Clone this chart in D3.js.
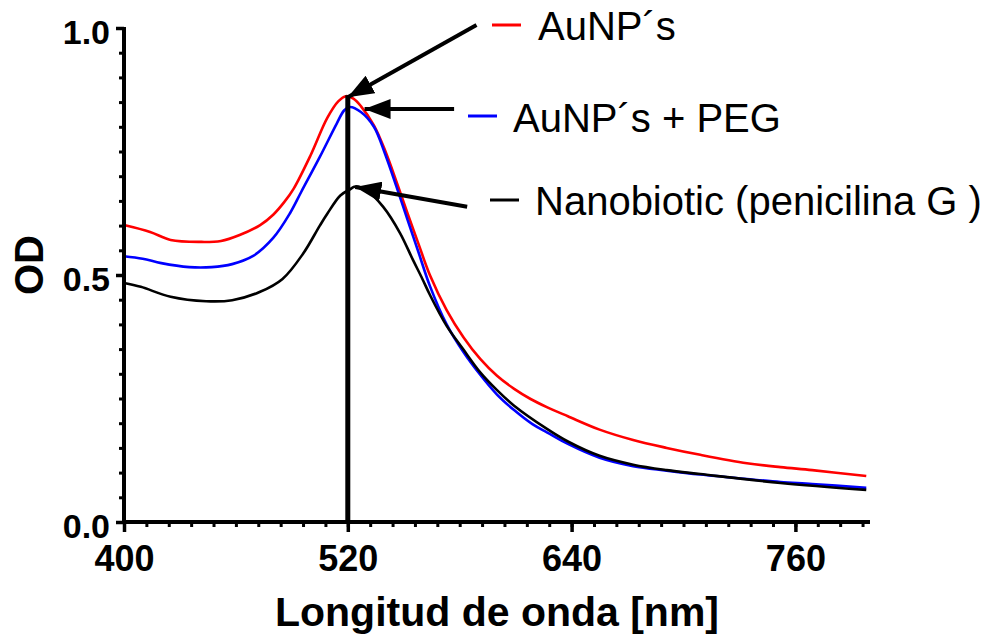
<!DOCTYPE html>
<html>
<head>
<meta charset="utf-8">
<script src="https://cdn.jsdelivr.net/npm/d3@7/dist/d3.min.js"></script>
<style>
  body { margin: 0; background: #fff; }
  svg { font-family: "Liberation Sans", Arial, sans-serif; }
</style>
</head>
<body>
<svg width="1000" height="635"></svg>
<script>
// wavelength (nm) / OD readings per sample
var aunpNm = [400, 414, 425, 441, 452, 462, 473, 480, 486, 491, 500, 509, 515, 519, 523, 527, 534, 540, 546, 552, 558, 564, 573, 582, 591, 600, 609, 618, 627, 638, 655, 673, 691, 709, 734, 752, 769, 798];
var aunpOd = [0.601, 0.587, 0.571, 0.567, 0.569, 0.581, 0.601, 0.622, 0.648, 0.675, 0.742, 0.818, 0.852, 0.862, 0.857, 0.842, 0.803, 0.752, 0.690, 0.625, 0.562, 0.500, 0.429, 0.374, 0.330, 0.296, 0.270, 0.249, 0.232, 0.214, 0.187, 0.166, 0.150, 0.136, 0.119, 0.111, 0.105, 0.093];

var pegNm = [400, 410, 420, 435, 447, 458, 469, 480, 489, 495, 505, 514, 518, 521, 527, 534, 540, 546, 552, 558, 564, 573, 582, 591, 600, 609, 619, 627, 638, 655, 673, 691, 709, 734, 752, 769, 798];
var pegOd = [0.538, 0.533, 0.524, 0.516, 0.516, 0.522, 0.538, 0.575, 0.625, 0.668, 0.739, 0.806, 0.833, 0.840, 0.830, 0.800, 0.745, 0.680, 0.612, 0.545, 0.478, 0.400, 0.344, 0.298, 0.258, 0.227, 0.198, 0.181, 0.158, 0.130, 0.113, 0.104, 0.096, 0.087, 0.081, 0.077, 0.069];

var nanoNm = [400, 409, 425, 444, 458, 473, 485, 496, 505, 509, 516, 521, 524, 530, 539, 548, 555, 560, 564, 573, 582, 591, 600, 609, 627, 638, 655, 673, 691, 709, 752, 798];
var nanoOd = [0.484, 0.476, 0.456, 0.447, 0.449, 0.466, 0.492, 0.543, 0.600, 0.624, 0.661, 0.673, 0.679, 0.672, 0.638, 0.585, 0.530, 0.492, 0.460, 0.397, 0.349, 0.303, 0.267, 0.236, 0.188, 0.163, 0.134, 0.116, 0.105, 0.097, 0.079, 0.065];

var seriesNames = ["AuNP\u00b4s", "AuNP\u00b4s + PEG", "Nanobiotic (penicilina G )"];
var seriesColors = ["#ff0000", "#0000ff", "#000000"];

var xTicks = [400, 520, 640, 760];
var yTicks = [0, 0.5, 1.0];
var peakNm = 520;
var peakOd = 0.862;

// arrows: [tail nm, tail OD, tip nm, tip OD]
var arrows = [
    [589, 1.006, 520, 0.860],
    [577, 0.836, 529, 0.836],
    [584, 0.638, 524, 0.678]
];

function main() {
    var svg = d3.select("svg");

    var x = d3.scaleLinear().domain([400, 800]).range([124, 870]);
    var y = d3.scaleLinear().domain([0, 1]).range([522, 28]);

    var defs = svg.append("defs");
    defs.append("marker")
        .attr("id", "head")
        .attr("viewBox", "0 0 26 20")
        .attr("refX", 26)
        .attr("refY", 10)
        .attr("markerWidth", 26)
        .attr("markerHeight", 20)
        .attr("markerUnits", "userSpaceOnUse")
        .attr("orient", "auto")
        .append("path")
        .attr("d", "M0,0 L26,10 L0,20 Z")
        .attr("fill", "#000");

    var line = d3.line()
        .x(function(d) { return x(d[0]); })
        .y(function(d) { return y(d[1]); })
        .curve(d3.curveCatmullRom);

    var sets = [
        d3.zip(aunpNm, aunpOd),
        d3.zip(pegNm, pegOd),
        d3.zip(nanoNm, nanoOd)
    ];

    sets.forEach(function(s, i) {
        svg.append("path")
            .datum(s)
            .attr("fill", "none")
            .attr("stroke", seriesColors[i])
            .attr("stroke-width", 2.6)
            .attr("d", line);
    });

    // vertical marker line at the plasmon peak
    svg.append("line")
        .attr("x1", x(peakNm)).attr("x2", x(peakNm))
        .attr("y1", y(0)).attr("y2", y(peakOd) - 1)
        .attr("stroke", "#000")
        .attr("stroke-width", 5);

    // axes
    var yMinor = d3.range(0, 1.0001, 0.05);
    var xMinor = d3.range(400, 800.1, 12);

    svg.append("g")
        .attr("transform", "translate(" + x(400) + ",0)")
        .call(d3.axisLeft(y).tickValues(yMinor).tickSize(5).tickFormat(""))
        .call(function(g) {
            g.select(".domain").remove();
            g.selectAll("line").attr("stroke-width", 3);
        });

    svg.append("g")
        .attr("transform", "translate(0," + y(0) + ")")
        .call(d3.axisBottom(x).tickValues(xMinor).tickSize(5).tickFormat(""))
        .call(function(g) {
            g.select(".domain").remove();
            g.selectAll("line").attr("stroke-width", 3);
        });

    svg.append("g")
        .attr("transform", "translate(" + x(400) + ",0)")
        .call(d3.axisLeft(y).tickValues(yTicks).tickSize(8).tickPadding(6).tickFormat(d3.format(".1f")))
        .call(function(g) {
            g.select(".domain").attr("stroke-width", 4).attr("d", "M0," + (y(1) - 1) + "V" + (y(0) + 2));
            g.selectAll("line").attr("stroke-width", 3.5);
            g.selectAll("text")
                .attr("font-size", "34px")
                .attr("font-weight", "bold")
                .attr("fill", "#000")
                .attr("dy", "0.45em")
                .style("font-family", "'Liberation Sans', Arial, sans-serif");
        });

    svg.append("g")
        .attr("transform", "translate(0," + y(0) + ")")
        .call(d3.axisBottom(x).tickValues(xTicks).tickSize(10).tickPadding(13).tickFormat(d3.format("d")))
        .call(function(g) {
            g.select(".domain").attr("stroke-width", 4).attr("d", "M" + (x(400) - 2) + ",0H" + x(800));
            g.selectAll("line").attr("stroke-width", 3.5);
            g.selectAll("text")
                .attr("font-size", "36px")
                .attr("font-weight", "bold")
                .attr("fill", "#000")
                .style("font-family", "'Liberation Sans', Arial, sans-serif");
        });

    // axis titles
    svg.append("text")
        .attr("x", (x(400) + x(800)) / 2)
        .attr("y", 626)
        .attr("text-anchor", "middle")
        .attr("font-size", "41px")
        .attr("font-weight", "bold")
        .text("Longitud de onda [nm]");

    svg.append("text")
        .attr("transform", "translate(43,265) rotate(-90)")
        .attr("text-anchor", "middle")
        .attr("font-size", "40px")
        .attr("font-weight", "bold")
        .text("OD");

    // arrows
    arrows.forEach(function(a) {
        svg.append("line")
            .attr("x1", x(a[0])).attr("y1", y(a[1]))
            .attr("x2", x(a[2])).attr("y2", y(a[3]))
            .attr("stroke", "#000")
            .attr("stroke-width", 4)
            .attr("marker-end", "url(#head)");
    });

    // legend labels
    var legX = [492, 468, 490];
    var legY = [25, 116, 200];
    var txtX = [538, 513, 535];
    var txtY = [40, 132, 215];
    seriesNames.forEach(function(n, i) {
        svg.append("line")
            .attr("x1", legX[i]).attr("x2", legX[i] + 29)
            .attr("y1", legY[i]).attr("y2", legY[i])
            .attr("stroke", seriesColors[i])
            .attr("stroke-width", 3);
        svg.append("text")
            .attr("x", txtX[i])
            .attr("y", txtY[i])
            .attr("font-size", "40px")
            .text(n);
    });
}
main();
</script>
</body>
</html>
